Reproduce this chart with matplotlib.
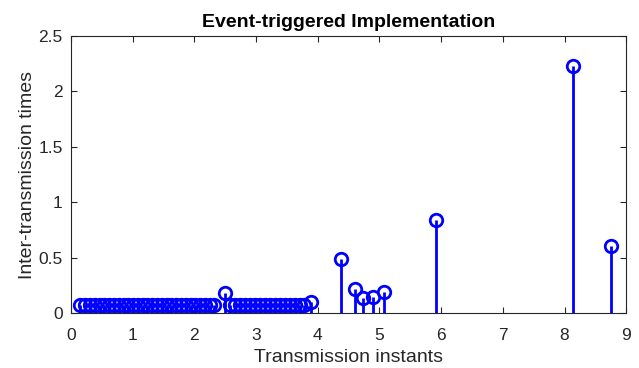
import matplotlib
matplotlib.use("Agg")
import matplotlib.pyplot as plt

plt.rcParams['font.family'] = ['Liberation Sans', 'DejaVu Sans']

# transmission instants and inter-transmission times
t_dense1 = [0.155, 0.233, 0.310, 0.388, 0.465, 0.543, 0.620, 0.698, 0.775, 0.853,
            0.930, 1.008, 1.085, 1.163, 1.240, 1.318, 1.395, 1.473, 1.550, 1.628,
            1.705, 1.783, 1.860, 1.938, 2.015, 2.093, 2.170, 2.248, 2.325]
h_dense1 = [0.078] * len(t_dense1)
t_dense2 = [2.585, 2.665, 2.745, 2.825, 2.905, 2.985, 3.065, 3.145, 3.225, 3.305,
            3.385, 3.465, 3.545, 3.625, 3.705, 3.785]
h_dense2 = [0.078] * len(t_dense2)
t_sparse = [2.505, 3.890, 4.380, 4.600, 4.740, 4.890, 5.075, 5.915, 8.145, 8.755]
h_sparse = [0.180, 0.105, 0.485, 0.220, 0.140, 0.150, 0.190, 0.840, 2.230, 0.610]

t = t_dense1 + t_dense2 + t_sparse
h = h_dense1 + h_dense2 + h_sparse

fig = plt.figure(figsize=(6.39, 3.68), dpi=100)
ax = fig.add_axes([0.111, 0.149, 0.869, 0.753])

ax.vlines(t, 0, h, color=(0, 0, 1), linewidth=2)
ax.plot(t, h, 'o', markersize=9, markerfacecolor='none',
        markeredgecolor=(0, 0, 1), markeredgewidth=2)

ax.set_xlim(0, 9)
ax.set_ylim(0, 2.5)
ax.set_xticks(range(10))
ax.set_yticks([0, 0.5, 1, 1.5, 2, 2.5])
ax.set_yticklabels(['0', '0.5', '1', '1.5', '2', '2.5'])

gray = (0.15, 0.15, 0.15)
for s in ax.spines.values():
    s.set_color(gray)
    s.set_linewidth(0.8)
ax.tick_params(direction='in', top=True, right=True, length=4,
               colors=gray, labelsize=12.5, labelcolor=gray)
ax.tick_params(axis='x', pad=10.5)
ax.tick_params(axis='y', pad=6)

ax.set_title("Event-triggered Implementation", fontsize=14, fontweight='bold', pad=6.5)
ax.set_xlabel("Transmission instants", fontsize=14, color=gray, labelpad=4.5)
ax.set_ylabel("Inter-transmission times", fontsize=14, color=gray, labelpad=1.5)

plt.savefig("out.png", dpi=100)
